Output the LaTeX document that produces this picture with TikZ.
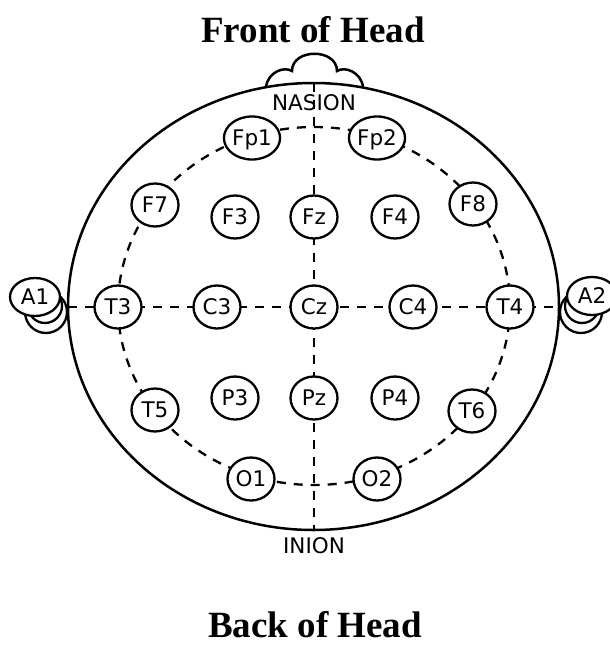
\documentclass[tikz,border=0pt]{standalone}
\usepackage{fontspec}
\setmainfont{Liberation Serif}
\newfontfamily\dejavu{DejaVu Sans}
\usetikzlibrary{shapes.geometric}

\begin{document}
\begin{tikzpicture}[x=1pt,y=-1pt,
  electrode/.style={draw,ellipse,fill=white,line width=2.3pt,minimum width=47pt,minimum height=43pt,
    inner sep=0pt,text height=15.5pt,text depth=0pt,font=\dejavu\fontsize{21.5}{25}\selectfont},
  earlobe/.style={electrode,minimum width=50pt,minimum height=38pt},
  guide/.style={line width=2.3pt,dash pattern=on 9pt off 8pt},
  landmark/.style={anchor=base,font=\dejavu\fontsize{21.5}{25}\selectfont},
  title/.style={anchor=base,font=\bfseries\fontsize{37}{41}\selectfont}]
\useasboundingbox (0,0) rectangle (610,645);
\node[title] (front) at (313,42) {Front of Head};
\node[title] (back) at (315,637) {Back of Head};
\draw[line width=2.3pt] (46,312) circle [radius=21];
\draw[line width=2.3pt] (45,306) circle [radius=17];
\draw[line width=2.3pt] (581,312) circle [radius=21];
\draw[line width=2.3pt] (582,306) circle [radius=17];
\draw[line width=2.5pt] (313.5,306.5) ellipse [x radius=245.5, y radius=223.5];
\draw[line width=2.5pt] (266,87) .. controls (268,72) and (284,66) .. (292,71)
  .. controls (292,48) and (337,48) .. (337,71)
  .. controls (345,66) and (361,72) .. (363,87);
\coordinate (vtop) at (314,83);
\coordinate (vbot) at (314,530);
\coordinate (hleft) at (68,307);
\coordinate (hright) at (559,307);
\draw[guide] (vtop) -- (vbot);
\draw[guide] (hleft) -- (hright);
\draw[guide] (314,306) ellipse [x radius=196, y radius=179];
\node[landmark] (nasion) at (314,110) {NASION};
\node[landmark] (inion) at (314,553) {INION};
\node[electrode] (Fp1) at (252,138) {Fp1};
\node[electrode] (Fp2) at (377,138) {Fp2};
\node[electrode] (F7) at (155,205) {F7};
\node[electrode] (F3) at (235,217) {F3};
\node[electrode] (Fz) at (314,217) {Fz};
\node[electrode] (F4) at (395,217) {F4};
\node[electrode] (F8) at (473,204) {F8};
\node[earlobe] (A1) at (35,297) {A1};
\node[electrode] (T3) at (118,307) {T3};
\node[electrode] (C3) at (217,307) {C3};
\node[electrode] (Cz) at (314,307) {Cz};
\node[electrode] (C4) at (413,307) {C4};
\node[electrode] (T4) at (510,307) {T4};
\node[earlobe] (A2) at (592,296) {A2};
\node[electrode] (T5) at (155,410) {T5};
\node[electrode] (P3) at (235,398) {P3};
\node[electrode] (Pz) at (314,398) {Pz};
\node[electrode] (P4) at (395,398) {P4};
\node[electrode] (T6) at (472,411) {T6};
\node[electrode] (O1) at (251,479) {O1};
\node[electrode] (O2) at (377,479) {O2};
\end{tikzpicture}
\end{document}
